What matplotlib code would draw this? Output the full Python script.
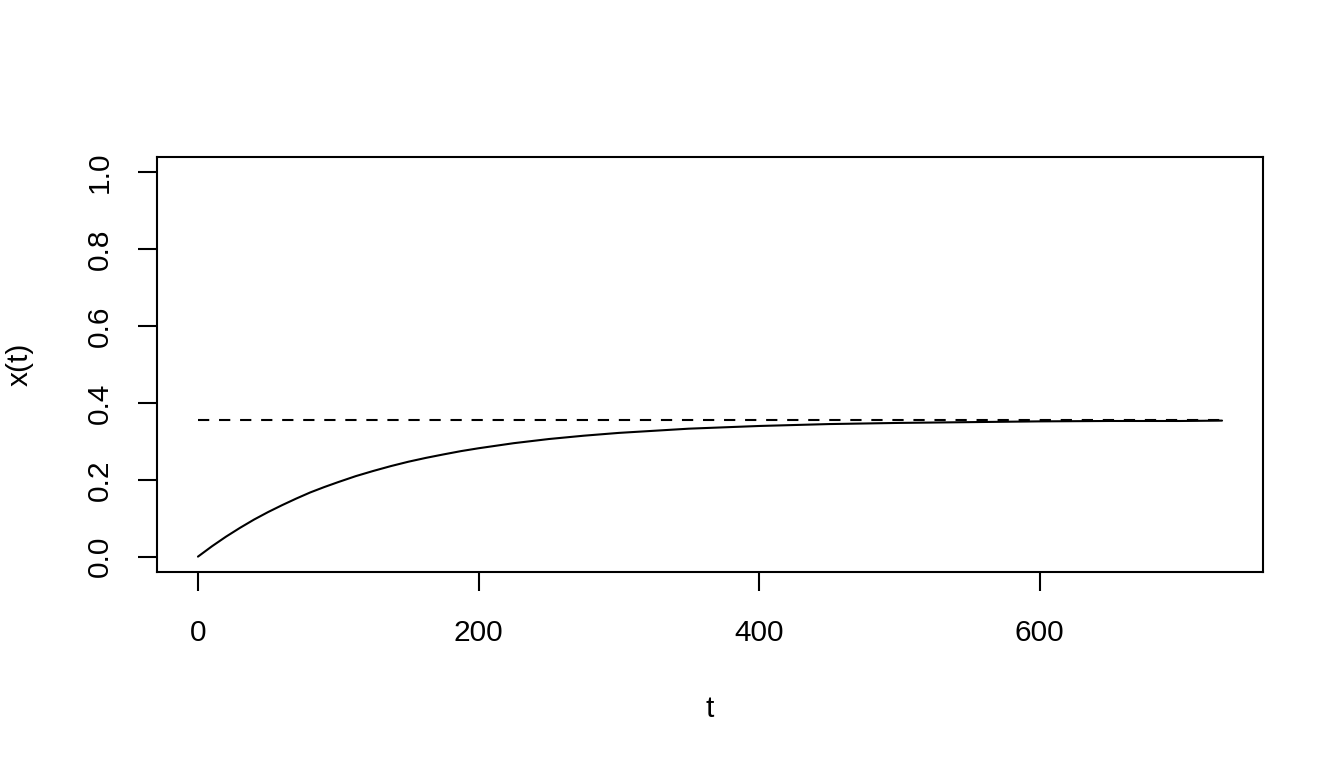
import matplotlib
matplotlib.use("Agg")
import matplotlib.pyplot as plt

plt.rcParams['font.family'] = ['Liberation Sans', 'DejaVu Sans']

# values
t_values = [0, 10, 20, 30, 40, 50, 60, 70, 80, 90, 100, 112.5, 125, 137.5,
            150, 162.5, 175, 187.5, 200, 225, 250, 275, 300, 350, 400, 450,
            500, 550, 600, 650, 700, 730]
x_values = [0.000, 0.027, 0.052, 0.075, 0.0965, 0.116, 0.134, 0.151, 0.167,
            0.181, 0.194, 0.2095, 0.223, 0.2356, 0.247, 0.257, 0.266, 0.2746,
            0.282, 0.2952, 0.306, 0.3147, 0.322, 0.333, 0.340, 0.345, 0.348,
            0.350, 0.352, 0.353, 0.353, 0.354]
equilibrium = 0.3547
t_range = [0, 730]
x_ticks = [0, 200, 400, 600]
y_ticks = [0.0, 0.2, 0.4, 0.6, 0.8, 1.0]
y_ticklabels = ["0.0", "0.2", "0.4", "0.6", "0.8", "1.0"]

W, H = 1344, 768
fig = plt.figure(figsize=(W / 100, H / 100), dpi=100)
left, right, top, bottom = 157, 1263, 157, 572
ax = fig.add_axes([left / W, 1 - bottom / H, (right - left) / W, (bottom - top) / H])

lw = 1.5
ax.plot(t_values, x_values, color='black', lw=lw,
        solid_joinstyle='round', solid_capstyle='round')
ax.plot(t_range, [equilibrium, equilibrium], color='black', lw=lw,
        linestyle=(0, (5.4, 4.7)))

ax.set_xlim(-0.04 * 730, 730 * 1.04)
ax.set_ylim(-0.04, 1.04)

ax.set_xticks(x_ticks)
ax.set_xticklabels([str(v) for v in x_ticks])
ax.set_yticks(y_ticks)
ax.set_yticklabels(y_ticklabels, rotation=90, va='center')

fs = 21.5
ax.tick_params(axis='both', direction='out', length=14, width=lw,
               labelsize=fs, color='black')
ax.tick_params(axis='x', pad=20)
ax.tick_params(axis='y', pad=17)
for s in ax.spines.values():
    s.set_linewidth(lw)

ax.set_xlabel('t', fontsize=fs)
ax.set_ylabel('x(t)', fontsize=fs)
ax.xaxis.set_label_coords(0.5, -(695 - 572) / (bottom - top))
ax.yaxis.set_label_coords((33.5 - left) / (right - left), 0.5)

fig.savefig('out.png', dpi=100)
